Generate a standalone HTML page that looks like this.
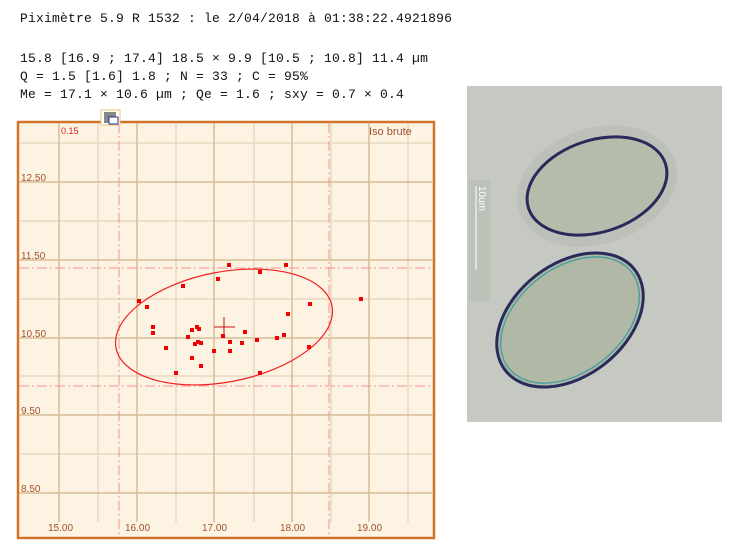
<!DOCTYPE html>
<html><head><meta charset="utf-8"><style>
body{margin:0;width:756px;height:547px;background:#fff;overflow:hidden;position:relative;font-family:"Liberation Mono",monospace;}
.t{position:absolute;left:20px;font-size:13px;letter-spacing:0.2px;color:#111;white-space:pre;line-height:16px}
</style></head><body>
<div class="t" style="top:11px">Piximètre 5.9 R 1532 : le 2/04/2018 à 01:38:22.4921896</div>
<div class="t" style="top:51px">15.8 [16.9 ; 17.4] 18.5 × 9.9 [10.5 ; 10.8] 11.4 µm</div>
<div class="t" style="top:69px">Q = 1.5 [1.6] 1.8 ; N = 33 ; C = 95%</div>
<div class="t" style="top:87px">Me = 17.1 × 10.6 µm ; Qe = 1.6 ; sxy = 0.7 × 0.4</div>
<svg width="756" height="547" style="position:absolute;left:0;top:0" font-family="Liberation Sans, sans-serif">
<rect x="18" y="122" width="416" height="416" fill="#fdf3e3" stroke="#d2732a" stroke-width="2.5"/>
<g stroke="#e8d8c0" stroke-width="1.5">
<line x1="98" y1="123" x2="98" y2="522"/><line x1="176" y1="123" x2="176" y2="522"/><line x1="254" y1="123" x2="254" y2="522"/><line x1="331" y1="123" x2="331" y2="522"/><line x1="408" y1="123" x2="408" y2="522"/>
<line x1="19" y1="143" x2="433" y2="143"/><line x1="19" y1="221" x2="433" y2="221"/><line x1="19" y1="299" x2="433" y2="299"/><line x1="19" y1="376" x2="433" y2="376"/><line x1="19" y1="454" x2="433" y2="454"/>
</g>
<g stroke="#d6bc98" stroke-width="1.5">
<line x1="59" y1="123" x2="59" y2="522"/><line x1="137" y1="123" x2="137" y2="522"/><line x1="214" y1="123" x2="214" y2="522"/><line x1="292" y1="123" x2="292" y2="522"/><line x1="369" y1="123" x2="369" y2="522"/>
<line x1="19" y1="182" x2="433" y2="182"/><line x1="19" y1="260" x2="433" y2="260"/><line x1="19" y1="338" x2="433" y2="338"/><line x1="19" y1="415" x2="433" y2="415"/><line x1="19" y1="493" x2="433" y2="493"/>
</g>
<g stroke="#f89090" stroke-width="1" stroke-dasharray="10,3,2,3">
<line x1="119" y1="123" x2="119" y2="537"/><line x1="329" y1="123" x2="329" y2="537"/>
<line x1="19" y1="268" x2="433" y2="268"/><line x1="19" y1="386" x2="433" y2="386"/>
</g>
<g fill="#a0522d" font-size="10">
<text x="21" y="181">12.50</text><text x="21" y="259">11.50</text><text x="21" y="337">10.50</text><text x="21" y="414">9.50</text><text x="21" y="492">8.50</text>
<text x="48" y="531">15.00</text><text x="125" y="531">16.00</text><text x="202" y="531">17.00</text><text x="280" y="531">18.00</text><text x="357" y="531">19.00</text>
<text x="369" y="135" font-size="11">Iso brute</text>
</g>
<text x="61" y="134" fill="#e02020" font-size="9">0.15</text>
<rect x="101" y="110" width="19" height="15" fill="#fff" stroke="#f0c070"/>
<rect x="104" y="112" width="12" height="11" fill="#888"/><rect x="109" y="117" width="9" height="7" fill="#fff" stroke="#2030a0"/>
<ellipse cx="224" cy="327" rx="110" ry="55" transform="rotate(-11 224 327)" fill="none" stroke="#f02020" stroke-width="1.2"/>
<g stroke="#d01010" stroke-width="1"><line x1="214" y1="327" x2="235" y2="327"/><line x1="224" y1="317" x2="224" y2="338"/></g>
<g fill="#f00000">
<rect x="137" y="299" width="4" height="4"/><rect x="145" y="305" width="4" height="4"/><rect x="151" y="325" width="4" height="4"/><rect x="151" y="331" width="4" height="4"/><rect x="164" y="346" width="4" height="4"/><rect x="174" y="371" width="4" height="4"/><rect x="181" y="284" width="4" height="4"/><rect x="186" y="335" width="4" height="4"/><rect x="190" y="328" width="4" height="4"/><rect x="190" y="356" width="4" height="4"/><rect x="195" y="325" width="4" height="4"/><rect x="196" y="340" width="4" height="4"/><rect x="193" y="342" width="4" height="4"/><rect x="199" y="341" width="4" height="4"/><rect x="199" y="364" width="4" height="4"/><rect x="197" y="327" width="4" height="4"/><rect x="212" y="349" width="4" height="4"/><rect x="216" y="277" width="4" height="4"/><rect x="221" y="334" width="4" height="4"/><rect x="227" y="263" width="4" height="4"/><rect x="228" y="340" width="4" height="4"/><rect x="228" y="349" width="4" height="4"/><rect x="240" y="341" width="4" height="4"/><rect x="243" y="330" width="4" height="4"/><rect x="255" y="338" width="4" height="4"/><rect x="258" y="270" width="4" height="4"/><rect x="258" y="371" width="4" height="4"/><rect x="275" y="336" width="4" height="4"/><rect x="282" y="333" width="4" height="4"/><rect x="286" y="312" width="4" height="4"/><rect x="284" y="263" width="4" height="4"/><rect x="308" y="302" width="4" height="4"/><rect x="307" y="345" width="4" height="4"/><rect x="359" y="297" width="4" height="4"/>
</g>
<rect x="467" y="86" width="255" height="336" fill="#c6c8c2"/>
<rect x="469" y="180" width="21" height="122" fill="#bcc2b8"/>
<ellipse cx="597" cy="186" rx="82" ry="58" transform="rotate(-18 597 186)" fill="#bdc0b8"/>
<ellipse cx="597" cy="186" rx="72" ry="46" transform="rotate(-18 597 186)" fill="#b6bcac" stroke="#2a2a5a" stroke-width="3"/>
<ellipse cx="570" cy="320" rx="82" ry="56" transform="rotate(-38 570 320)" fill="#b2b8a6" stroke="#282c5c" stroke-width="3"/>
<ellipse cx="570" cy="320" rx="78" ry="52" transform="rotate(-38 570 320)" fill="none" stroke="#50a0a0" stroke-width="1.5"/>
<line x1="476" y1="186" x2="476" y2="270" stroke="#fff" stroke-width="1"/>
<text x="0" y="0" fill="#fff" font-size="10" transform="translate(479 186) rotate(90)">10um</text>
</svg>
</body></html>
